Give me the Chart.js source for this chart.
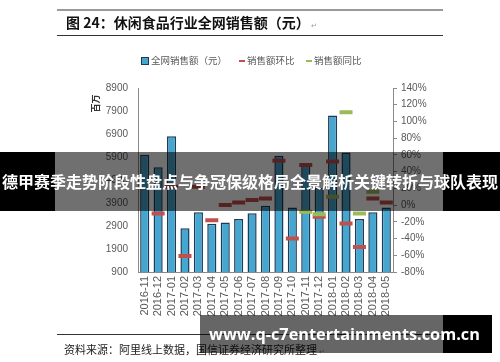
<!DOCTYPE html>
<html>
<head>
<meta charset="utf-8">
<script src="https://cdn.jsdelivr.net/npm/chart.js@4"></script>
<style>
  body { margin: 0; background: #fff; }
  #wrap { position: relative; width: 500px; height: 362px; overflow: hidden; font-family: "Noto Sans CJK SC", sans-serif; }
  #c { position: absolute; left: 0; top: 0; }
  .ln { position: absolute; left: 57px; width: 386px; }
  .abs { position: absolute; white-space: nowrap; }
  .lg { position: absolute; top: 53px; font-size: 9.5px; color: #595959; white-space: nowrap; line-height: 14px; }
  .sw { display: inline-block; vertical-align: middle; margin-right: 2px; }
</style>
</head>
<body>
<div id="wrap">
  <canvas id="c" width="500" height="362"></canvas>

  <div class="ln" style="top:9px;height:2px;background:#9a9a9a;"></div>
  <div class="abs" style="left:66px;top:12px;font-size:14px;font-weight:700;color:#111;line-height:20px;">图 24：休闲食品行业全网销售额（元）<span style="font-size:7px;color:#999;font-weight:400;"> ↵</span></div>
  <div class="ln" style="top:35px;height:1px;background:#333;"></div>

  <div class="lg" style="left:141px;"><span class="sw" style="width:6px;height:6px;background:#45a6cf;border:1px solid #1f3b57;"></span>全网销售额（元）</div>
  <div class="lg" style="left:239px;"><span class="sw" style="width:6px;height:2px;background:#c0504d;"></span>销售额环比</div>
  <div class="lg" style="left:306px;"><span class="sw" style="width:6px;height:2px;background:#9bbb59;"></span>销售额同比</div>

  <div class="abs" style="left:86px;top:97px;font-size:9px;font-weight:700;color:#333;transform:rotate(-90deg);transform-origin:center;">百万</div>

  <div class="ln" style="top:334px;height:1px;background:#333;"></div>
  <div class="abs" style="left:64px;top:341px;font-size:11px;color:#222;line-height:16px;">资料来源：阿里线上数据，国信证券经济研究所整理<span style="font-size:7px;color:#999;"> ↵</span></div>

  <!-- banner overlay -->
  <div class="abs" style="left:0;top:152px;width:55px;height:59px;background:#000;"></div>
  <div class="abs" style="left:55px;top:152px;width:388px;height:59px;background:rgba(0,0,0,0.56);"></div>
  <div class="abs" style="left:443px;top:152px;width:57px;height:59px;background:#000;"></div>
  <div id="banner" class="abs" style="left:0;top:170px;width:500px;text-align:center;font-size:16px;font-weight:700;color:#fff;line-height:22px;">德甲赛季走势阶段性盘点与争冠保级格局全景解析关键转折与球队表现</div>

  <!-- watermark -->
  <div class="abs" style="left:200px;top:315px;width:243px;height:38px;background:rgba(0,0,0,0.6);"></div>
  <div class="abs" style="left:443px;top:315px;width:49px;height:38px;background:#000;"></div>
  <div id="wm" class="abs" style="left:209px;top:320px;font-family:'Open Sans',sans-serif;font-weight:700;font-size:20px;color:#fff;line-height:28px;">www.q-c7entertainments.com.cn</div>
</div>

<script>
// 月份
var months = ['2016-11','2016-12','2017-01','2017-02','2017-03','2017-04','2017-05','2017-06','2017-07','2017-08',
  '2017-09','2017-10','2017-11','2017-12','2018-01','2018-02','2018-03','2018-04','2018-05'];

// 全网销售额（百万）
var sales = [6000, 5450, 6800, 2800, 3500, 3000, 3050, 3200, 3450, 3780,
  5950, 3700, 5550, 4550, 7700, 6100, 3200, 3500, 3700];

// 销售额环比 (%)
var mom = [null, -10, 22, -61, 22, -18, 0, 3, 6, 8,
  53, -40, 48, -14, 52, -22, -50, 8, 3];

// 销售额同比 (%)
var yoy = [null, null, null, null, null, null, null, null, null, null,
  null, null, -8, -11, 10, 111, -10, 16, null];

var leftTicks = [900, 8900, 1000];
var rightTicks = [-80, 140, 20];

// ajusta largura do texto
function fit(id, w) {
  var el = document.getElementById(id);
  var fs = parseFloat(el.style.fontSize);
  var cw = el.getBoundingClientRect().width;
  el.style.fontSize = (fs * w / cw).toFixed(2) + 'px';
}
fit('wm', 271);

var tickColor = '#595959';
var axisColor = '#8a8a8a';

const ctx = document.getElementById('c');
const myChart = new Chart(ctx, {
  data: {
    labels: months,
    datasets: [
      {
        type: 'line',
        label: '销售额环比',
        data: mom,
        yAxisID: 'y1',
        showLine: false,
        pointStyle: 'line',
        pointRadius: 6.5,
        pointHoverRadius: 6.5,
        borderColor: '#c0504d',
        backgroundColor: '#c0504d',
        pointBorderWidth: 4,
        borderWidth: 4,
        order: 1
      },
      {
        type: 'line',
        label: '销售额同比',
        data: yoy,
        yAxisID: 'y1',
        showLine: false,
        pointStyle: 'line',
        pointRadius: 6.5,
        pointHoverRadius: 6.5,
        borderColor: '#9bbb59',
        backgroundColor: '#9bbb59',
        pointBorderWidth: 4,
        borderWidth: 4,
        order: 0
      },
      {
        type: 'bar',
        label: '全网销售额（元）',
        data: sales,
        yAxisID: 'y',
        backgroundColor: '#45a6cf',
        borderColor: '#1f3b57',
        borderWidth: 1.5,
        barPercentage: 0.68,
        categoryPercentage: 1,
        order: 2
      }
    ]
  },
  options: {
    responsive: false,
    animation: false,
    devicePixelRatio: 1,
    layout: { padding: { left: 100, right: 57, top: 88, bottom: 40 } },
    plugins: { legend: { display: false }, tooltip: { enabled: false } },
    scales: {
      x: {
        grid: { display: true, drawOnChartArea: false, drawTicks: false },
        border: { color: axisColor, width: 1 },
        ticks: { color: tickColor, font: { family: 'Liberation Sans', size: 11 }, minRotation: 90, maxRotation: 90, padding: 4, autoSkip: false },
        afterFit: function (s) { s.height = 50; }
      },
      y: {
        position: 'left',
        min: leftTicks[0], max: leftTicks[1],
        grid: { display: true, drawOnChartArea: false, drawTicks: false },
        border: { color: axisColor, width: 1 },
        ticks: { stepSize: leftTicks[2], color: tickColor, font: { family: 'Liberation Sans', size: 10 }, padding: 10,
          callback: function (v) { return String(v); } },
        afterFit: function (s) { s.width = 38; }
      },
      y1: {
        position: 'right',
        min: rightTicks[0], max: rightTicks[1],
        grid: { display: true, drawOnChartArea: false, drawTicks: true, tickLength: 4, color: axisColor },
        border: { color: axisColor, width: 1 },
        ticks: { stepSize: rightTicks[2], color: tickColor, font: { family: 'Liberation Sans', size: 10 }, padding: 4,
          callback: function (v) { return v + '%'; } },
        afterFit: function (s) { s.width = 50; }
      }
    }
  }
});
</script>
</body>
</html>
